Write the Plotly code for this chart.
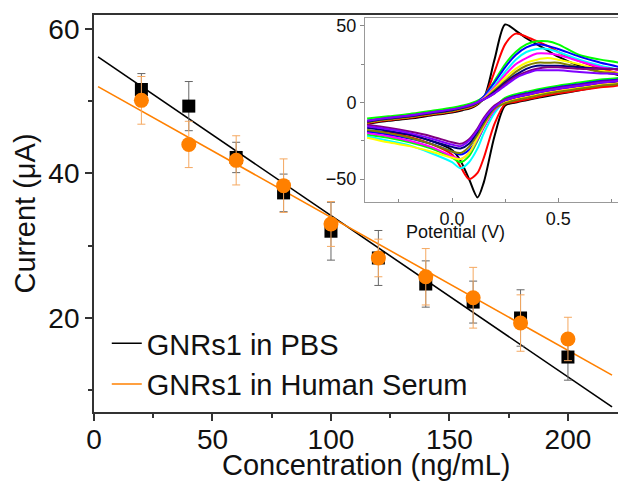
import plotly.graph_objects as go

# main plot: current vs concentration
conc = [20, 40, 60, 80, 100, 120, 140, 160, 180, 200]
pbs_current = [51.6, 49.3, 42.2, 37.3, 32.0, 28.3, 24.7, 22.2, 20.0, 14.6]
pbs_err = [2.2, 3.4, 2.1, 2.6, 4.0, 3.8, 3.2, 2.9, 3.9, 3.2]
serum_current = [50.1, 44.0, 41.8, 38.3, 33.0, 28.3, 25.7, 22.8, 19.3, 17.1]
serum_err = [3.3, 3.2, 3.4, 3.7, 3.1, 2.6, 3.9, 4.2, 3.9, 3.0]

# linear fits (end points)
fit_conc = [1.7, 218.6]
pbs_fit = [56.1, 7.7]
serum_fit = [52.0, 12.1]

# inset: cyclic voltammograms
cv_fwd_v = [-0.4, -0.3, -0.2, -0.1, 0.0, 0.05, 0.1, 0.15, 0.2, 0.25, 0.3, 0.35, 0.4, 0.45, 0.5, 0.6, 0.7, 0.8]
cv_rev_v = [0.8, 0.7, 0.6, 0.5, 0.4, 0.35, 0.3, 0.25, 0.2, 0.15, 0.12, 0.08, 0.04, 0.0, -0.1, -0.2, -0.3, -0.4]

cv_black_fwd = [-14, -12, -10.5, -8.5, -6.5, -5, -3, 3, 28, 51, 47, 42, 38, 34, 30, 24, 20, 17]
cv_black_rev = [13, 10.5, 8, 5.5, 3, 1.5, 0, -2, -22, -52, -62, -50, -38, -31, -25, -21, -19.5, -18.5]
cv_red_fwd = [-13.5, -11.5, -10, -8, -6, -4.5, -2.5, 3, 20, 38, 45, 43, 40, 37, 33, 27, 22, 18]
cv_red_rev = [12, 10, 8, 6, 3.5, 2, 0.5, -1, -14, -36, -46, -50, -42, -34, -27, -22.5, -20, -19]
cv_green_fwd = [-10.5, -9, -7.5, -5.5, -3.5, -2, 0, 4, 14, 25, 33, 38, 40, 40, 38, 31, 28, 25]
cv_green_rev = [17, 15, 13, 11, 8.5, 7, 5.5, 3, -4, -16, -25, -35, -39, -36, -30, -26, -23, -21]
cv_blue_fwd = [-12, -10.5, -9, -7, -5, -3.5, -1.5, 4, 13, 23, 31, 36, 38, 37, 35, 30, 26, 22]
cv_blue_rev = [16, 14, 12, 10, 7.5, 6, 4.5, 2, -5, -16, -24, -31, -34, -32, -27, -23.5, -21, -19]
cv_cyan_fwd = [-12.5, -10.5, -9, -7, -5, -3.5, -1.5, 3, 11, 20, 28, 33, 35, 35, 33, 28, 24, 20]
cv_cyan_rev = [14.5, 12.5, 10.5, 8.5, 6, 4.5, 3, 1, -7, -20, -30, -39, -43, -39, -33, -28, -25, -22]
cv_magenta_fwd = [-12.5, -10.5, -9, -7, -5, -3.5, -1.5, 3, 10, 18, 25, 29, 32, 32, 31, 27, 23, 20]
cv_magenta_rev = [14, 12, 10, 8, 5.5, 4, 2.5, 0.5, -5, -16, -24, -33, -37, -35, -29, -25, -22, -20]
cv_yellow_fwd = [-13, -11, -9.5, -7.5, -5.5, -4, -2, 2.5, 9, 16, 22, 26, 28, 29, 28, 25, 21, 18]
cv_yellow_rev = [13.5, 11.5, 9.5, 7.5, 5, 3.5, 2, 0, -4, -15, -23, -33, -37, -36, -32, -28.5, -26, -23]
cv_olive_fwd = [-13, -11, -9.5, -7.5, -5.5, -4, -2, 2, 8, 14, 20, 24, 26, 26, 26, 23, 20, 18]
cv_olive_rev = [13, 11, 9, 7, 4.5, 3, 1.5, -0.5, -4, -14, -21, -29, -33, -32, -27, -23, -20, -18]
cv_navy_fwd = [-12.5, -10.5, -9, -7, -5, -3.5, -1.5, 2, 7, 13, 18, 22, 24, 24, 24, 23, 22, 21]
cv_navy_rev = [15, 13, 11, 9, 6.5, 5, 3.5, 1.5, -3, -12, -19, -27, -30, -29, -25, -21, -18.5, -16.5]
cv_purple_fwd = [-12, -10, -8.5, -6.5, -4.5, -3, -1, 2, 6, 12, 17, 20, 22, 23, 23, 22, 22, 21]
cv_purple_rev = [15.5, 13.5, 11.5, 9.5, 7, 5.5, 4, 2, -2, -10, -17, -24, -27, -26, -22, -19, -16.5, -14.5]
cv_violet_fwd = [-12, -10, -8.5, -6.5, -4.5, -3, -1, 2, 6, 11, 16, 19, 21, 21, 21, 20, 19, 18]
cv_violet_rev = [15, 13, 11, 9, 6.5, 5, 3.5, 1.5, -3, -11, -18, -25, -28.5, -27.5, -23.5, -20, -17.5, -15.5]

cv_curves = [
    ("#000000", cv_black_fwd, cv_black_rev),
    ("#ff0000", cv_red_fwd, cv_red_rev),
    ("#00ff00", cv_green_fwd, cv_green_rev),
    ("#0000ff", cv_blue_fwd, cv_blue_rev),
    ("#00ffff", cv_cyan_fwd, cv_cyan_rev),
    ("#ff00ff", cv_magenta_fwd, cv_magenta_rev),
    ("#ffff00", cv_yellow_fwd, cv_yellow_rev),
    ("#808000", cv_olive_fwd, cv_olive_rev),
    ("#000080", cv_navy_fwd, cv_navy_rev),
    ("#800080", cv_purple_fwd, cv_purple_rev),
    ("#8000ff", cv_violet_fwd, cv_violet_rev),
]

FONT = "Arial, Liberation Sans, sans-serif"
ORANGE = "#ff8000"

fig = go.Figure()

# fit lines (these carry the legend)
fig.add_trace(go.Scatter(x=fit_conc, y=pbs_fit, mode="lines", name="GNRs1 in PBS",
                         line=dict(color="black", width=1.6)))
fig.add_trace(go.Scatter(x=fit_conc, y=serum_fit, mode="lines", name="GNRs1 in Human Serum",
                         line=dict(color=ORANGE, width=1.6)))

# data points with error bars
fig.add_trace(go.Scatter(x=conc, y=pbs_current, mode="markers", showlegend=False,
                         marker=dict(symbol="square", size=13, color="black"),
                         error_y=dict(type="data", array=pbs_err, color="#666666",
                                      thickness=1, width=4)))
fig.add_trace(go.Scatter(x=conc, y=serum_current, mode="markers", showlegend=False,
                         marker=dict(symbol="circle", size=15, color=ORANGE),
                         error_y=dict(type="data", array=serum_err, color="#f5a860",
                                      thickness=1, width=4)))

# inset CV curves
for color, fwd, rev in cv_curves:
    fig.add_trace(go.Scatter(x=cv_fwd_v + cv_rev_v, y=fwd + rev, mode="lines",
                             showlegend=False, xaxis="x2", yaxis="y2",
                             line=dict(color=color, width=2, shape="spline", smoothing=0.8)))

axis_common = dict(showgrid=False, zeroline=False, showline=True, automargin=False)

# the page adds an 8px body margin, so the margins are shifted by that much
fig.update_layout(
    width=626, height=481,
    margin=dict(l=86, r=8, t=7, b=77),
    paper_bgcolor="white", plot_bgcolor="white",
    font=dict(family=FONT, color="#111111"),
    xaxis=dict(**axis_common, domain=[0, 1], range=[0, 224.5],
               tick0=0, dtick=50, ticks="outside", ticklen=7, tickwidth=1.5,
               tickcolor="#333333", linecolor="#333333", linewidth=1.8, mirror=True,
               minor=dict(dtick=25, ticks="outside", ticklen=4, tickwidth=1.5, tickcolor="#333333"),
               tickfont=dict(size=28), ticklabelstandoff=-6),
    yaxis=dict(**axis_common, range=[7, 61.9],
               tick0=0, dtick=20, ticks="outside", ticklen=7, tickwidth=1.5,
               tickcolor="#333333", linecolor="#333333", linewidth=1.8,
               minor=dict(dtick=10, ticks="outside", ticklen=4, tickwidth=1.5, tickcolor="#333333"),
               tickfont=dict(size=28),
               title=dict(text="Current (\u03bcA)", font=dict(size=29), standoff=4)),
    xaxis2=dict(**axis_common, domain=[0.5094, 0.9962], anchor="y2", range=[-0.41, 0.81],
                tickvals=[0, 0.5], ticktext=["0.0", "0.5"], ticks="inside", ticklen=4,
                tickcolor="#888888", linecolor="#999999", linewidth=1, mirror=True,
                minor=dict(tick0=0, dtick=0.25, ticks="inside", ticklen=3, tickcolor="#888888"),
                tickfont=dict(size=18)),
    yaxis2=dict(**axis_common, domain=[0.529, 0.9924], anchor="x2", range=[-65, 55.2],
                tickvals=[-50, 0, 50], ticks="outside", ticklen=4,
                tickcolor="#888888", linecolor="#999999", linewidth=1, mirror=True,
                minor=dict(tick0=0, dtick=25, ticks="outside", ticklen=3, tickcolor="#888888"),
                tickfont=dict(size=18)),
    legend=dict(x=0.024, xanchor="left", y=0.237, yanchor="top",
                bgcolor="rgba(0,0,0,0)", font=dict(size=29, family=FONT),
                tracegroupgap=0),
    annotations=[
        dict(text="Concentration (ng/mL)", xref="paper", yref="paper",
             x=0.513, y=-0.134, yanchor="middle", showarrow=False,
             font=dict(size=29, family=FONT)),
        dict(text="Potential (V)", xref="paper", yref="paper",
             x=0.776, y=0.453, showarrow=False, font=dict(size=18, family=FONT)),
    ],
)

fig.write_html("out.html")
